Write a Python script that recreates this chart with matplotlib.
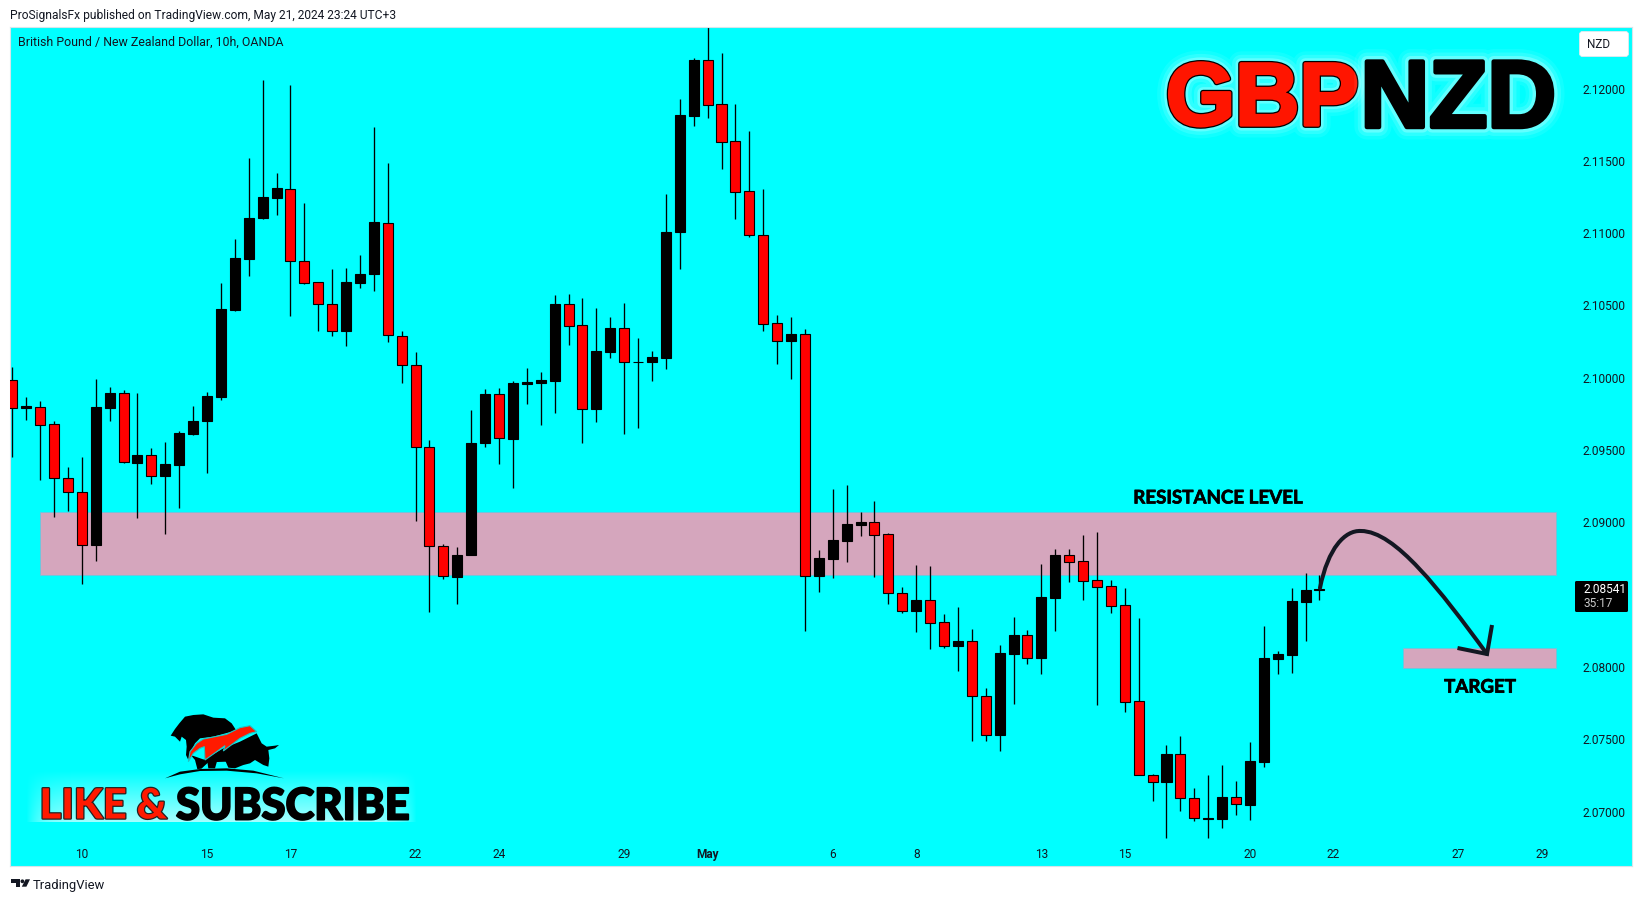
import numpy as np
import matplotlib
matplotlib.use("Agg")
import matplotlib.pyplot as plt
import matplotlib.patheffects as pe
from matplotlib.patches import Rectangle, Polygon, PathPatch, FancyBboxPatch, Circle
from matplotlib.path import Path
from matplotlib.transforms import Affine2D

W, H = 1643, 901

# GBPNZD 10h candles
opens = [2.09982, 2.09788, 2.09801, 2.09678, 2.09304, 2.09208, 2.08847, 2.09793, 2.09892, 2.09413,
         2.09463, 2.09323, 2.09400, 2.09613, 2.09698, 2.09870, 2.10471, 2.10824, 2.11108, 2.11245,
         2.11308, 2.10810, 2.10660, 2.10507, 2.10321, 2.10657, 2.10715, 2.11073, 2.10291, 2.10091,
         2.09518, 2.08840, 2.08624, 2.08777, 2.09546, 2.09885, 2.09578, 2.09958, 2.09967, 2.09980,
         2.10508, 2.10363, 2.09786, 2.10180, 2.10341, 2.10106, 2.10106, 2.10139, 2.11011, 2.11812,
         2.12195, 2.11891, 2.11634, 2.11290, 2.10984, 2.10377, 2.10251, 2.10300, 2.08632, 2.08749,
         2.08874, 2.08984, 2.09001, 2.08918, 2.08510, 2.08390, 2.08461, 2.08309, 2.08148, 2.08178,
         2.07798, 2.07533, 2.08093, 2.08219, 2.08065, 2.08480, 2.08772, 2.08731, 2.08600, 2.08558,
         2.08427, 2.07763, 2.07251, 2.07208, 2.07397, 2.07097, 2.06952, 2.06952, 2.07099, 2.07049,
         2.07346, 2.08058, 2.08086, 2.08452, 2.08530]
closes = [2.09788, 2.09804, 2.09676, 2.09304, 2.09208, 2.08847, 2.09796, 2.09894, 2.09416, 2.09465,
          2.09323, 2.09405, 2.09616, 2.09700, 2.09872, 2.10474, 2.10829, 2.11108, 2.11250, 2.11313,
          2.10810, 2.10657, 2.10507, 2.10321, 2.10660, 2.10717, 2.11075, 2.10294, 2.10091, 2.09520,
          2.08840, 2.08627, 2.08777, 2.09546, 2.09885, 2.09581, 2.09961, 2.09969, 2.09986, 2.10508,
          2.10360, 2.09786, 2.10183, 2.10341, 2.10106, 2.10109, 2.10144, 2.11011, 2.11817, 2.12195,
          2.11889, 2.11632, 2.11287, 2.10984, 2.10374, 2.10251, 2.10300, 2.08632, 2.08752, 2.08876,
          2.08987, 2.09003, 2.08915, 2.08510, 2.08390, 2.08461, 2.08307, 2.08148, 2.08178, 2.07798,
          2.07533, 2.08095, 2.08219, 2.08065, 2.08482, 2.08772, 2.08729, 2.08597, 2.08556, 2.08424,
          2.07761, 2.07251, 2.07208, 2.07397, 2.07097, 2.06954, 2.06954, 2.07099, 2.07051, 2.07348,
          2.08060, 2.08088, 2.08454, 2.08530, 2.08541]
highs = [2.10075, 2.09867, 2.09840, 2.09700, 2.09383, 2.09452, 2.09990, 2.09935, 2.09916, 2.09894,
         2.09514, 2.09555, 2.09632, 2.09804, 2.09900, 2.10654, 2.10961, 2.11518, 2.12060, 2.11414,
         2.12024, 2.11209, 2.10665, 2.10753, 2.10758, 2.10849, 2.11734, 2.11486, 2.10321, 2.10179,
         2.09573, 2.08851, 2.08829, 2.09775, 2.09920, 2.09926, 2.09978, 2.10070, 2.10038, 2.10571,
         2.10579, 2.10552, 2.10483, 2.10420, 2.10516, 2.10276, 2.10188, 2.11271, 2.11927, 2.12214,
         2.12450, 2.12247, 2.11894, 2.11705, 2.11306, 2.10434, 2.10420, 2.10336, 2.08809, 2.09231,
         2.09259, 2.09072, 2.09148, 2.08925, 2.08553, 2.08706, 2.08699, 2.08367, 2.08415, 2.08263,
         2.07855, 2.08152, 2.08346, 2.08256, 2.08712, 2.08816, 2.08816, 2.08913, 2.08934, 2.08602,
         2.08547, 2.08339, 2.07258, 2.07461, 2.07523, 2.07164, 2.07254, 2.07323, 2.07212, 2.07480,
         2.08284, 2.08111, 2.08547, 2.08650, 2.08636]
lows = [2.09454, 2.09711, 2.09290, 2.09039, 2.09080, 2.08577, 2.08730, 2.09698, 2.09408, 2.09033,
        2.09268, 2.08921, 2.09102, 2.09605, 2.09345, 2.09848, 2.10463, 2.10706, 2.11100, 2.11127,
        2.10430, 2.10649, 2.10326, 2.10291, 2.10222, 2.10624, 2.10602, 2.10250, 2.09966, 2.09011,
        2.08384, 2.08611, 2.08433, 2.08777, 2.09518, 2.09401, 2.09239, 2.09822, 2.09677, 2.09759,
        2.10224, 2.09551, 2.09696, 2.10139, 2.09614, 2.09655, 2.09980, 2.10062, 2.10749, 2.11744,
        2.11798, 2.11443, 2.11101, 2.10973, 2.10325, 2.10098, 2.09994, 2.08252, 2.08521, 2.08618,
        2.08729, 2.08908, 2.08625, 2.08438, 2.08376, 2.08245, 2.08127, 2.08134, 2.07975, 2.07491,
        2.07491, 2.07422, 2.07747, 2.08023, 2.07954, 2.08252, 2.08590, 2.08466, 2.07740, 2.08376,
        2.07692, 2.07251, 2.07076, 2.06820, 2.07007, 2.06938, 2.06820, 2.06890, 2.06979, 2.06943,
        2.07311, 2.07954, 2.07961, 2.08180, 2.08466]

# 2.08500 sits under the last price tag in the reference
price_ticks = [2.12, 2.115, 2.11, 2.105, 2.10, 2.095, 2.09, 2.08, 2.075, 2.07]
time_pos = [5, 14, 20, 29, 35, 44, 50, 59, 65, 74, 80, 89, 95, 104, 110]
time_labels = ["10", "15", "17", "22", "24", "29", "May", "6", "8", "13", "15", "20", "22", "27", "29"]

resistance_zone = (2.08636, 2.09070)
target_zone = (2.07993, 2.08134)
zone_start, target_start, zone_end = 2, 100, 111
last_price = 2.08541

BG = "#00ffff"
RED = "#ff0000"
ZONE = "#d5a6bd"
INK = "#131722"

plt.rcParams["font.family"] = ["Roboto", "DejaVu Sans"]

fig = plt.figure(figsize=(W / 100, H / 100), dpi=100, facecolor="white")
px = Affine2D().scale(1 / W, -1 / H).translate(0, 1) + fig.transFigure

ax = fig.add_axes([10 / W, 1 - 866 / H, 1622 / W, 839 / H], facecolor=BG)
ax.set_xlim((10 - 12.3) / 13.906, (1632 - 12.3) / 13.906)
ax.set_ylim(2.066246, 2.124252)

# zones under the candles
for lo_hi, start in [(resistance_zone, zone_start), (target_zone, target_start)]:
    ax.add_patch(Rectangle((start, lo_hi[0]), zone_end - start, lo_hi[1] - lo_hi[0],
                           facecolor=ZONE, edgecolor="#6fc6dc", lw=0.7, zorder=1))

x = np.arange(len(opens))
o, c = np.array(opens), np.array(closes)
colors = [("black" if cc >= oo else RED) for oo, cc in zip(o, c)]
ax.vlines(x, lows, highs, color="black", lw=0.95, zorder=2)
ax.bar(x, np.abs(c - o), bottom=np.minimum(o, c), width=0.72, color=colors,
       edgecolor="black", linewidth=0.8, zorder=3)

ax.yaxis.tick_right()
ax.set_yticks(price_ticks)
ax.set_yticklabels(["%.5f" % p for p in price_ticks])
ax.tick_params(axis="y", length=0, pad=-35.5, labelsize=8.6, labelcolor=INK)
ax.set_xticks(time_pos)
ax.set_xticklabels(time_labels)
ax.tick_params(axis="x", length=0, pad=-13.3, labelsize=8.6, labelcolor=INK)
for t in ax.get_xticklabels():
    if t.get_text() == "May":
        t.set_fontweight("bold")
for s in ax.spines.values():
    s.set_color("#d6e4ea")
    s.set_linewidth(0.8)

# annotations
heavy = [pe.withStroke(linewidth=0.5, foreground="black")]
ax.text(86.7, 2.09169, "RESISTANCE LEVEL", family="Lato", weight="bold", fontsize=13.5,
        ha="center", va="center", color="black", zorder=6, path_effects=heavy)
ax.text(105.55, 2.07861, "TARGET", family="Lato", weight="bold", fontsize=13.5,
        ha="center", va="center", color="black", zorder=6, path_effects=heavy)

# hand drawn arrow
curve = Path([(1320, 588), (1328, 548), (1345, 530), (1361, 531), (1395, 531), (1440, 590), (1487, 654)],
             [Path.MOVETO, Path.CURVE4, Path.CURVE4, Path.CURVE4, Path.CURVE4, Path.CURVE4, Path.CURVE4])
fig.add_artist(PathPatch(curve, transform=px, fill=False, edgecolor=INK, lw=2.9, capstyle="round", zorder=6))
fig.add_artist(Polygon([(1457.5, 648), (1487, 654), (1492, 625)], closed=False, fill=False, transform=px,
                       edgecolor=INK, lw=2.9, joinstyle="miter", zorder=6))

# header and footer texts
fig.text(10, 15.5, "ProSignalsFx published on TradingView.com, May 21, 2024 23:24 UTC+3", transform=px,
         fontsize=8.66, color=INK, va="center")
fig.text(18, 42.5, "British Pound / New Zealand Dollar, 10h, OANDA", transform=px,
         fontsize=8.9, color=INK, va="center")
fig.text(33, 885, "TradingView", transform=px, fontsize=9.4, color=INK, va="center")

# TradingView mark
fig.add_artist(Polygon([(10.6, 879.3), (20, 879.3), (20, 886.7), (16, 886.7), (16, 882.7), (10.6, 882.7)],
                       transform=px, fc=INK, ec="none", zorder=6))
fig.add_artist(Circle((22.4, 881.3), 1.9, transform=px, fc=INK, ec="none", zorder=6))
fig.add_artist(Polygon([(25.6, 879.3), (30, 879.3), (26.4, 886.7), (21.8, 886.7)],
                       transform=px, fc=INK, ec="none", zorder=6))

# currency button and last price tag
fig.add_artist(FancyBboxPatch((1581, 33), 46, 22, boxstyle="round,pad=1.5,rounding_size=3", transform=px,
                              fc="white", ec="#e4e8ee", lw=0.6, zorder=5))
fig.text(1599, 44.5, "NZD", transform=px, fontsize=8.4, color=INK, ha="center", va="center", zorder=6)
fig.add_artist(FancyBboxPatch((1575, 581), 53, 31, boxstyle="round,pad=0,rounding_size=1.5", transform=px,
                              fc="black", ec="none", zorder=5))
fig.text(1583, 589.5, "%.5f" % last_price, transform=px, fontsize=8.6, color="white", va="center", zorder=6)
fig.text(1583, 603.5, "35:17", transform=px, fontsize=8.6, color="#c8c8c8", va="center", zorder=6)

# big pair title with a white glow
glow = [pe.withStroke(linewidth=18, foreground="white", alpha=0.07),
        pe.withStroke(linewidth=13, foreground="white", alpha=0.12),
        pe.withStroke(linewidth=8, foreground="white", alpha=0.25)]
fig.text(1166, 92.5, "GBP", transform=px, family="Liberation Sans", weight="bold", fontsize=64,
         color="#ff1500", va="center_baseline", zorder=6,
         path_effects=glow + [pe.withStroke(linewidth=4.2, foreground="black"),
                              pe.withStroke(linewidth=2.4, foreground="#ff1500")])
fig.text(1360.5, 92.5, "NZD", transform=px, family="Liberation Sans", weight="bold", fontsize=68.5,
         color="black", va="center_baseline", zorder=6,
         path_effects=glow + [pe.withStroke(linewidth=3.2, foreground="black")])

# LIKE & SUBSCRIBE banner
gx = fig.add_axes([26 / W, 1 - 822 / H, 391 / W, 52 / H], zorder=1)
gx.axis("off")
ramp = np.linspace(0, 1, 52)[:, None] * (1 - np.abs(np.linspace(-1, 1, 391))[None, :] ** 10)
rgba = np.ones((52, 391, 4))
rgba[..., 3] = 0.65 * ramp
gx.imshow(rgba, aspect="auto", interpolation="bilinear")
fig.text(39.5, 803, "LIKE &", transform=px, family="Lato", weight="black", fontsize=30,
         color="#ff1a00", va="center_baseline", zorder=6,
         path_effects=[pe.withStroke(linewidth=1.8, foreground="#222222")])
fig.text(176, 803, "SUBSCRIBE", transform=px, family="Lato", weight="black", fontsize=31.4,
         color="black", va="center_baseline", zorder=6,
         path_effects=[pe.withStroke(linewidth=1.4, foreground="black")])

# bull and bear mark, outline traced in the 3x crop at (160, 705)
def logo(points):
    return [(160 + a / 3, 705 + b / 3) for a, b in points]

bear = [(32, 92), (45, 72), (58, 55), (75, 35), (100, 30), (130, 28), (160, 38), (195, 40), (215, 55),
        (228, 75), (215, 80), (160, 95), (120, 100), (105, 115), (92, 140), (85, 165), (78, 150), (80, 125),
        (78, 105), (65, 95), (60, 110), (50, 100), (45, 95)]
bull = [(112, 192), (130, 165), (190, 130), (240, 110), (290, 85), (305, 115), (320, 125), (345, 122),
        (357, 120), (345, 130), (325, 135), (328, 160), (325, 185), (310, 180), (285, 165), (270, 175),
        (250, 180), (225, 190), (205, 188), (195, 165), (175, 155), (165, 190), (145, 190), (142, 170),
        (125, 190)]
filler = [(92, 150), (135, 165), (195, 135), (200, 170), (145, 172), (125, 190), (112, 192), (105, 165)]
slash = [(85, 170), (90, 140), (110, 115), (130, 102), (200, 88), (240, 68), (270, 62), (290, 80), (270, 85),
         (240, 100), (190, 138), (195, 122), (135, 165), (133, 125), (120, 130), (100, 145)]
ground = [(15, 220), (60, 200), (120, 192), (200, 190), (280, 197), (372, 220), (290, 205), (200, 197),
          (120, 198), (60, 208)]
for shape in [bear, bull, filler, ground]:
    fig.add_artist(Polygon(logo(shape), transform=px, fc="black", ec="none", zorder=6))
fig.add_artist(Polygon(logo(slash), transform=px, fc="#ff1a00", ec="#1fc4c4", lw=0.8, zorder=6))

fig.savefig("out.png", dpi=100, facecolor="white")
